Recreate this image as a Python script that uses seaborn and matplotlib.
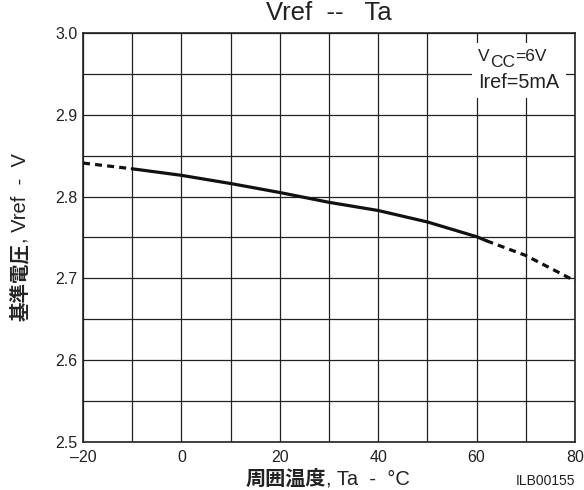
import matplotlib
matplotlib.use("Agg")
import matplotlib.pyplot as plt
import seaborn as sns
import pandas as pd
from matplotlib.ticker import MultipleLocator
from matplotlib.patches import Rectangle

# ---- data ----
ta_low = [-20, -10]
vref_low = [2.841, 2.834]
ta_mid = [-10, 0, 10, 20, 30, 40, 50, 60, 62]
vref_mid = [2.834, 2.826, 2.816, 2.805, 2.793, 2.783, 2.769, 2.751, 2.746]
ta_high = [62, 70, 80]
vref_high = [2.746, 2.728, 2.697]

x_ticks = [-20, 0, 20, 40, 60, 80]
x_tick_labels = ["\u201320", "0", "20", "40", "60", "80"]
y_ticks = [2.5, 2.6, 2.7, 2.8, 2.9, 3.0]
y_tick_labels = ["2.5", "2.6", "2.7", "2.8", "2.9", "3.0"]

sns.set_style("white")
plt.rcParams['font.family'] = ['Liberation Sans', 'Noto Sans CJK JP', 'DejaVu Sans']

TXT = "#222222"
fig = plt.figure(figsize=(5.84, 4.9), dpi=100)
ax = fig.add_axes([83/584, 1-442/490, (575-83)/584, (442-33)/490])

df_low = pd.DataFrame({"Ta": ta_low, "Vref": vref_low})
df_mid = pd.DataFrame({"Ta": ta_mid, "Vref": vref_mid})
df_high = pd.DataFrame({"Ta": ta_high, "Vref": vref_high})

sns.lineplot(data=df_low, x="Ta", y="Vref", ax=ax, color="#111111", lw=2.3,
             linestyle=(0, (2.2, 1.6)), zorder=5)
sns.lineplot(data=df_mid, x="Ta", y="Vref", ax=ax, color="#111111", lw=2.3, zorder=5)
sns.lineplot(data=df_high, x="Ta", y="Vref", ax=ax, color="#111111", lw=2.3,
             linestyle=(0, (2.2, 1.6)), zorder=5)

ax.set_xlim(-20, 80)
ax.set_ylim(2.5, 3.0)
ax.set_xticks(x_ticks)
ax.set_xticklabels(x_tick_labels)
ax.set_yticks(y_ticks)
ax.set_yticklabels(y_tick_labels)
ax.xaxis.set_minor_locator(MultipleLocator(10))
ax.yaxis.set_minor_locator(MultipleLocator(0.05))
ax.grid(True, which="both", color="#222222", lw=0.9)
ax.tick_params(which="both", length=0, labelsize=11.5, colors=TXT)
ax.tick_params(axis="x", pad=6)
ax.tick_params(axis="y", pad=4)
for s in ax.spines.values():
    s.set_color("#222222")
    s.set_linewidth(1.2)
ax.set_xlabel("")
ax.set_ylabel("")

ax.set_title("Vref  --   Ta", fontsize=18.5, color=TXT, pad=9)

# condition box (white patch interrupting grid)
box = Rectangle((0.791, 0.8411), 0.1915, 0.1345, transform=ax.transAxes,
                facecolor="white", edgecolor="none", zorder=4)
ax.add_patch(box)

px2fig_x = lambda p: p / 584
px2fig_y = lambda p: 1 - p / 490
fig.canvas.draw()
renderer = fig.canvas.get_renderer()
t1 = fig.text(px2fig_x(478), px2fig_y(61), "V", ha="left", va="baseline",
              fontsize=12.5, color=TXT, zorder=7)
bb = t1.get_window_extent(renderer)
t2 = fig.text(bb.x1 / fig.bbox.width, px2fig_y(67), "CC", ha="left", va="baseline",
              fontsize=12.5, color=TXT, zorder=7)
bb2 = t2.get_window_extent(renderer)
fig.text(bb2.x1 / fig.bbox.width, px2fig_y(61), "=6V", ha="left", va="baseline",
         fontsize=12.5, color=TXT, zorder=7)
fig.text(px2fig_x(478), px2fig_y(88), "Iref=5mA", ha="left", va="baseline",
         fontsize=14.3, color=TXT, zorder=7)

# x label (bold CJK + normal)
fig.text(326/584, 1-479/490, "周囲温度", ha="right", va="center",
         fontsize=14.5, fontweight="bold", color=TXT)
fig.text(326/584, 1-479/490, ", Ta  -  °C", ha="left", va="center",
         fontsize=14.5, color=TXT)
# y label
fig.text(20/584, 1-243/490, "基準電圧", ha="center", va="top", rotation=90,
         fontsize=14, fontweight="bold", color=TXT)
fig.text(20/584, 1-243/490, ", Vref  -  V", ha="center", va="bottom", rotation=90,
         fontsize=14.5, color=TXT)

fig.text(575/584, 1-481/490, "ILB00155", ha="right", va="center",
         fontsize=10, color=TXT)

fig.savefig("out.png", dpi=100)
